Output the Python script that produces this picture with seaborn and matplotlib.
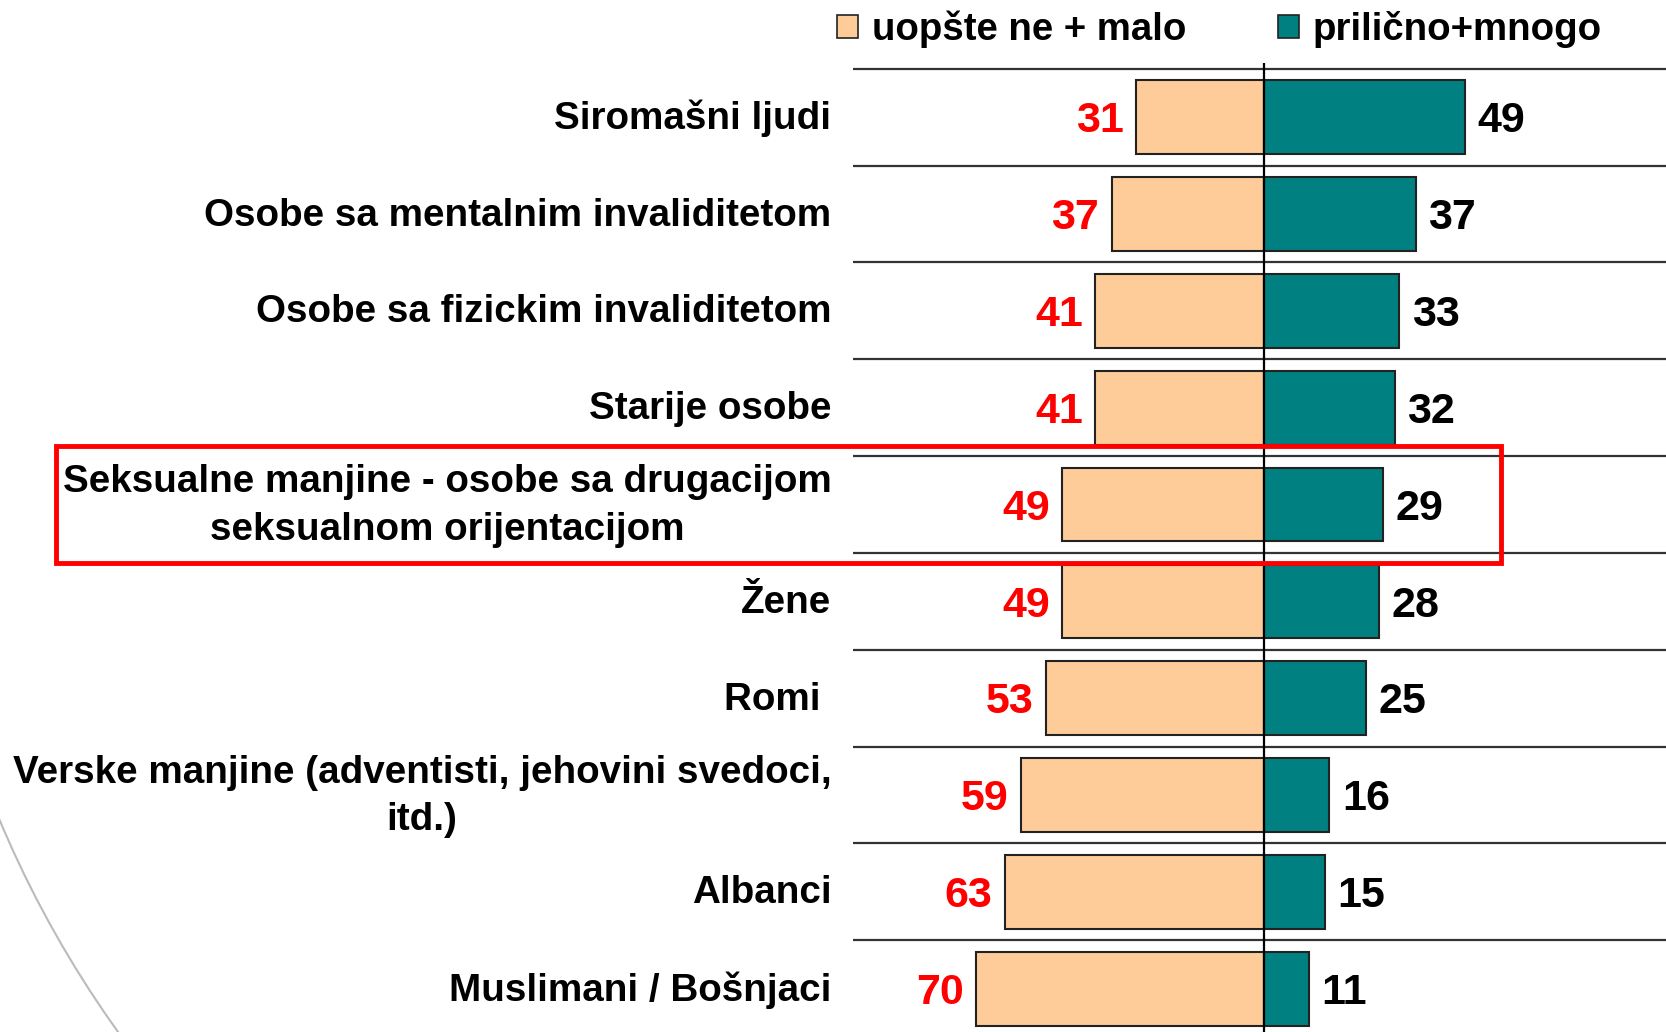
import matplotlib
matplotlib.use("Agg")
import matplotlib.pyplot as plt
import matplotlib.transforms as mtransforms
import seaborn as sns
import pandas as pd
from matplotlib.patches import Patch, Rectangle, Ellipse

categories = [
    "Siromašni ljudi",
    "Osobe sa mentalnim invaliditetom",
    "Osobe sa fizickim invaliditetom",
    "Starije osobe",
    "Seksualne manjine - osobe sa drugacijom\nseksualnom orijentacijom",
    "Žene",
    "Romi ",
    "Verske manjine (adventisti, jehovini svedoci,\nitd.)",
    "Albanci",
    "Muslimani / Bošnjaci",
]
low_values = [31, 37, 41, 41, 49, 49, 53, 59, 63, 70]
high_values = [49, 37, 33, 32, 29, 28, 25, 16, 15, 11]
series_names = ["uopšte ne + malo", "prilično+mnogo"]

PEACH = "#FECC99"
TEAL = "#008080"
FONT = ["Liberation Sans", "Arial", "DejaVu Sans"]

sns.set_style("white")
plt.rcParams["font.family"] = FONT
plt.rcParams["font.weight"] = "bold"
plt.rcParams["text.color"] = "black"

df = pd.DataFrame({"category": categories,
                   "low": [-v for v in low_values],
                   "high": high_values})

fig = plt.figure(figsize=(16.66, 10.32), dpi=100)
ax = fig.add_axes([0.512, -0.005, 0.488, 0.944])

sns.barplot(data=df, x="low", y="category", orient="h", color=PEACH,
            edgecolor="#222222", linewidth=1.5, width=0.76, saturation=1, ax=ax)
sns.barplot(data=df, x="high", y="category", orient="h", color=TEAL,
            edgecolor="#222222", linewidth=1.5, width=0.76, saturation=1, ax=ax)

for cont, vals, col in [(ax.containers[0], low_values, "#FF0000"),
                        (ax.containers[1], high_values, "black")]:
    anns = ax.bar_label(cont, labels=[str(v) for v in vals], padding=9,
                        color=col, fontsize=31, fontweight="bold", fontfamily=FONT)
    for t in anns:
        t.xyann = (t.xyann[0], -3)

ax.set_xlim(-100, 98)
ax.set_ylim(len(categories) - 0.5, -0.56)
for i in range(len(categories) + 1):
    ax.axhline(i - 0.5, color="#333333", lw=1.6, zorder=0)
ax.axvline(0, color="black", lw=1.6, zorder=3)

for s in ax.spines.values():
    s.set_visible(False)
ax.set_xticks([])
ax.set_yticks([])
ax.set_xlabel("")
ax.set_ylabel("")

# category labels, right aligned left of the plot area
lab_tr = ax.get_yaxis_transform() + mtransforms.ScaledTranslation(-21.5 / 100, -1.5 / 100, fig.dpi_scale_trans)
for i, name in enumerate(categories):
    ax.text(0, i, name, transform=lab_tr, ha="right", va="center",
            multialignment="center", linespacing=1.4, fontsize=27.8,
            fontweight="bold", fontfamily=FONT, color="black", clip_on=False)

# legend
handles = [Patch(facecolor=PEACH, edgecolor="#222222", lw=1.2),
           Patch(facecolor=TEAL, edgecolor="#222222", lw=1.2)]
fig.legend(handles, series_names, loc="center", bbox_to_anchor=(0.732, 0.972),
           ncol=2, frameon=False, handlelength=0.55, handleheight=0.55,
           handletextpad=0.35, columnspacing=2.4,
           prop={"weight": "bold", "size": 27.6, "family": FONT})

# highlight box around the sexual minorities row
W, H = 1666, 1032
fig.add_artist(Rectangle((56 / W, 1 - 563 / H), (1501 - 56) / W, (563 - 446) / H,
                         transform=fig.transFigure, fill=False,
                         edgecolor="#FF0000", lw=3.5, zorder=10))

# decorative background arc in the lower left corner
fig.add_artist(Ellipse((1000 / W, 1 - 400 / H), 2170 / W, 2170 / H,
                       transform=fig.transFigure, fill=False,
                       edgecolor="#BBBBBB", lw=1.5, zorder=-1))

fig.savefig("out.png", dpi=100)
